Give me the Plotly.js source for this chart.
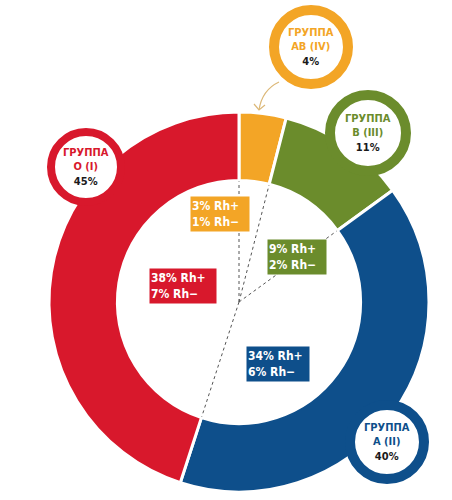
<!DOCTYPE html>
<html>
<head>
<meta charset="utf-8">
<script src="https://cdn.plot.ly/plotly-3.0.1.min.js"></script>
<style>html,body{margin:0;padding:0;background:#fff;}#chart{width:452px;height:500px;}</style>
</head>
<body>
<div id="chart"></div>
<script>
// ---- data ----
const groups = ['AB (IV)', 'B (III)', 'A (II)', 'O (I)'];
const shares = [4, 11, 40, 45];
const rhPos = [3, 9, 34, 38];
const rhNeg = [1, 2, 6, 7];
const colors = ['#f3a526', '#6b8c2c', '#0e4f8b', '#d8182c'];

// ---- layout helpers (pixel -> paper) ----
const W = 452, H = 500;
const px = x => x / W;
const py = y => 1 - y / H;
const CX = 239, CY = 302, R = 190, HOLE = 0.64;
const FONT = 'DejaVu Sans Condensed, DejaVu Sans, sans-serif';

const pie = {
  type: 'pie',
  values: shares,
  labels: groups,
  sort: false,
  direction: 'clockwise',
  rotation: 0,
  hole: HOLE,
  textinfo: 'none',
  hoverinfo: 'none',
  marker: {colors: colors, line: {color: '#ffffff', width: 3}},
  domain: {x: [px(CX - R), px(CX + R)], y: [py(CY + R), py(CY - R)]}
};

const shapes = [];
// dotted lines from centre to the slice boundaries on the inner edge
const total = shares.reduce((a, b) => a + b, 0);
let cum = 0;
const rIn = R * HOLE - 1;
shares.forEach(v => {
  const ang = cum / total * 2 * Math.PI;
  shapes.push({type: 'line', xref: 'paper', yref: 'paper',
    x0: px(CX), y0: py(CY),
    x1: px(CX + rIn * Math.sin(ang)), y1: py(CY - rIn * Math.cos(ang)),
    line: {color: '#555', width: 1, dash: 'dot'}, layer: 'above'});
  cum += v;
});

// callout circles
const circ = [ // [cx, cy, outer radius, ring width] for AB, B, A, O
  [311, 47, 42, 10], [368, 133, 43, 10], [387, 442, 42, 10], [86, 167, 39, 8]
];
const annotations = [];
circ.forEach((c, i) => {
  const ringW = c[3];
  const r = c[2] - ringW / 2;
  shapes.push({type: 'circle', xref: 'paper', yref: 'paper',
    x0: px(c[0] - r), x1: px(c[0] + r), y0: py(c[1] + r), y1: py(c[1] - r),
    fillcolor: '#ffffff', line: {color: colors[i], width: ringW}, layer: 'above'});
  annotations.push({xref: 'paper', yref: 'paper', x: px(c[0]), y: py(c[1]),
    xanchor: 'center', yanchor: 'middle', showarrow: false, align: 'center',
    text: '<span style="color:' + colors[i] + '"><b>ГРУППА<br>' + groups[i] + '</b></span><br><b>' + shares[i] + '%</b>',
    font: {family: FONT, size: 11, color: '#1a1a1a'}});
});

// arrow from AB callout to its slice
shapes.push({type: 'path', xref: 'paper', yref: 'paper', layer: 'above',
  path: 'M ' + px(279) + ',' + py(82) + ' Q ' + px(262) + ',' + py(90) + ' ' + px(259) + ',' + py(110),
  line: {color: '#dcb878', width: 1.2}});
shapes.push({type: 'path', xref: 'paper', yref: 'paper', layer: 'above',
  path: 'M ' + px(254) + ',' + py(104) + ' L ' + px(259) + ',' + py(110) + ' L ' + px(265) + ',' + py(105),
  line: {color: '#dcb878', width: 1.2}});

// Rh boxes
const boxes = [ // centre x, centre y, width for AB, B, A, O
  [220, 214, 56], [297, 257, 56], [278, 364, 60], [183, 286, 64]
];
boxes.forEach((b, i) => {
  annotations.push({xref: 'paper', yref: 'paper', x: px(b[0]), y: py(b[1]),
    xanchor: 'center', yanchor: 'middle', showarrow: false, align: 'left',
    width: b[2], height: 32, bgcolor: colors[i], borderpad: 1,
    text: '<b>' + rhPos[i] + '% Rh+<br>' + rhNeg[i] + '% Rh−</b>',
    font: {family: FONT, size: 12, color: '#ffffff'}});
});

const layout = {
  width: W, height: H,
  margin: {l: 0, r: 0, t: 0, b: 0},
  paper_bgcolor: '#ffffff', plot_bgcolor: '#ffffff',
  showlegend: false,
  shapes: shapes,
  annotations: annotations
};
Plotly.newPlot('chart', [pie], layout, {displayModeBar: false, staticPlot: true});
</script>
</body>
</html>
